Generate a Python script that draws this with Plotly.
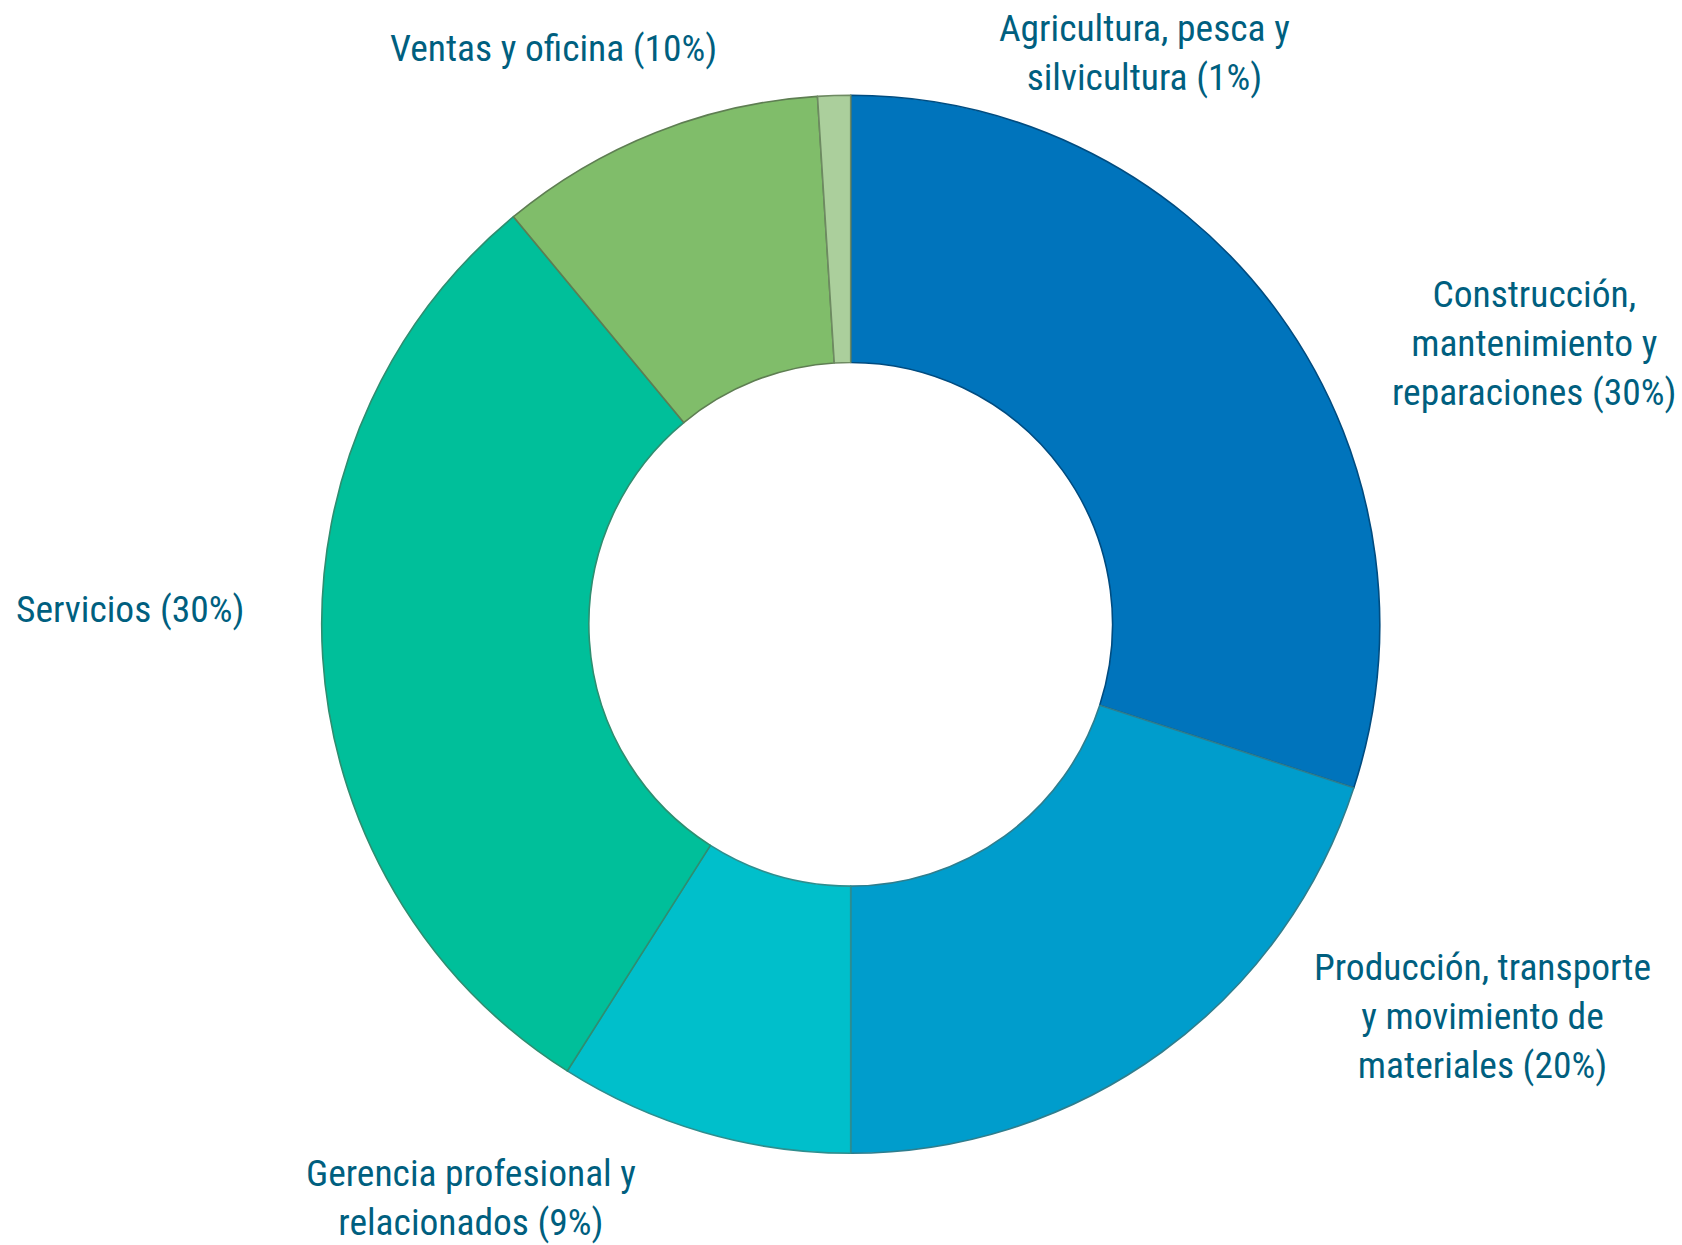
import plotly.graph_objects as go

categories = [
    "Construcción,<br>mantenimiento y<br>reparaciones",
    "Producción, transporte<br>y movimiento de<br>materiales",
    "Gerencia profesional y<br>relacionados",
    "Servicios",
    "Ventas y oficina",
    "Agricultura, pesca y<br>silvicultura",
]
values = [30, 20, 9, 30, 10, 1]
colors = ["#0074BC", "#009DCC", "#00BFCB", "#00BF9A", "#80BD6A", "#ABCF9C"]
line_colors = ["#004C80", "#2E7E8E", "#2E8E8E", "#2E8E70", "#5E7E52", "#6E8A62"]

# label anchor positions (pixels in the 1682x1245 window)
label_pos = [(1534, 343), (1482, 1016), (471, 1197), (130, 609), (553, 48), (1144, 52)]

W, H = 1682, 1245
cx, cy, r = 850.7, 624.3, 529

fig = go.Figure(go.Pie(
    values=values,
    labels=[c.replace("<br>", " ") for c in categories],
    sort=False,
    direction="clockwise",
    rotation=0,
    hole=0.495,
    marker=dict(colors=colors, line=dict(color=line_colors, width=1.6)),
    textinfo="none",
    hoverinfo="label+percent",
    showlegend=False,
    domain=dict(x=[(cx - r) / W, (cx + r) / W],
                y=[(H - cy - r) / H, (H - cy + r) / H]),
))

font_family = "Liberation Sans Narrow, Arial Narrow, Roboto Condensed, Liberation Sans, Arial, sans-serif"
for cat, v, (px, py) in zip(categories, values, label_pos):
    fig.add_annotation(
        x=px / W, y=1 - py / H, xref="paper", yref="paper",
        text=f"{cat} ({v}%)", showarrow=False,
        xanchor="center", yanchor="middle", align="center",
        font=dict(family=font_family, size=37.5, color="#005F7F"),
    )

fig.update_layout(
    width=W, height=H,
    margin=dict(l=0, r=0, t=0, b=0),
    paper_bgcolor="white", plot_bgcolor="white",
)

fig.write_html(
    "out.html",
    config={"displayModeBar": False},
    post_script="document.body.style.margin='0';document.body.style.overflow='hidden';",
)
